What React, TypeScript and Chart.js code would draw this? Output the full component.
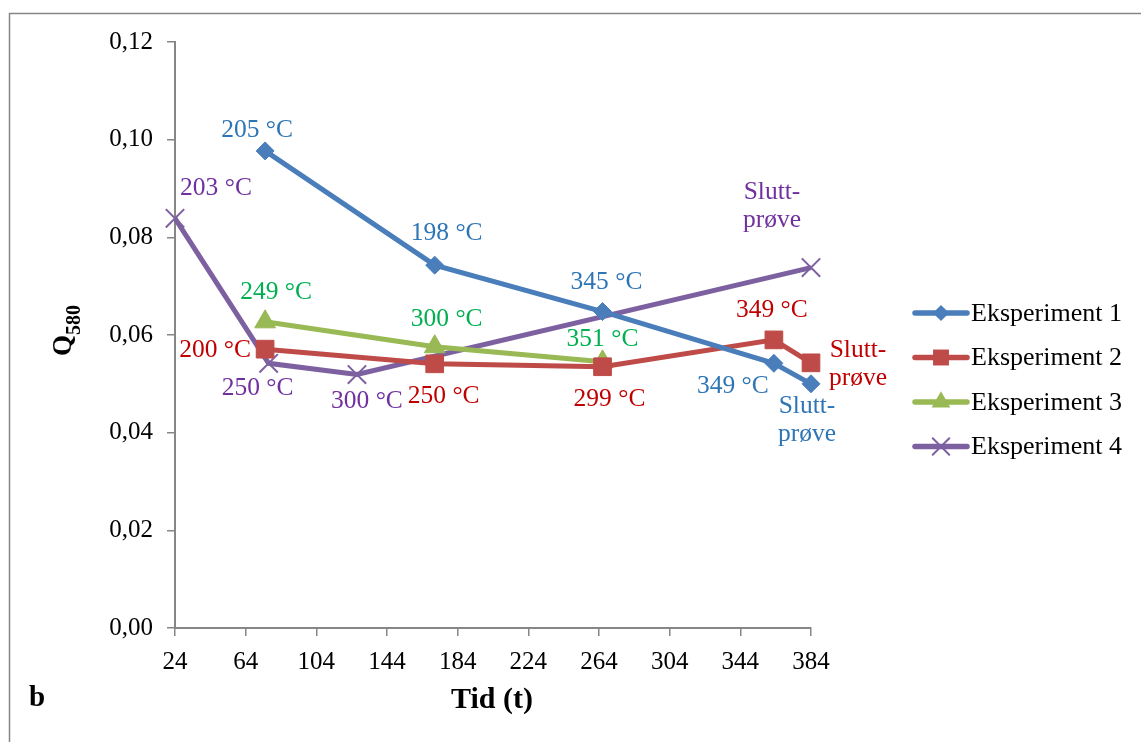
import React, { useEffect, useRef } from "react";
import { Chart, registerables } from "chart.js";

Chart.register(...registerables);

// ---- data ----
const seriesNames = ["Eksperiment 1", "Eksperiment 2", "Eksperiment 3", "Eksperiment 4"];
const exp1X = [75, 171, 266, 363, 384];
const exp1Y = [0.0977, 0.0743, 0.0648, 0.0542, 0.05];
const exp1Labels = ["205 °C", "198 °C", "345 °C", "349 °C", "Slutt-|prøve"];
const exp2X = [75, 171, 266, 363, 384];
const exp2Y = [0.0571, 0.0541, 0.0535, 0.059, 0.0543];
const exp2Labels = ["200 °C", "250 °C", "299 °C", "349 °C", "Slutt-|prøve"];
const exp3X = [75, 171, 266];
const exp3Y = [0.0627, 0.0576, 0.0545];
const exp3Labels = ["249 °C", "300 °C", "351 °C"];
const exp4X = [24, 77, 127, 384];
const exp4Y = [0.0839, 0.0542, 0.0519, 0.0738];
const exp4Labels = ["203 °C", "250 °C", "300 °C", "Slutt-|prøve"];
const xTicks = [24, 64, 104, 144, 184, 224, 264, 304, 344, 384];
const yTicks = [0, 0.02, 0.04, 0.06, 0.08, 0.1, 0.12];

// ---- styles ----
const lineColors = ["#4A7EBB", "#BE4B48", "#98B954", "#7D60A0"];
const labelColors = ["#2E75B6", "#C00000", "#00B050", "#7030A0"];
const pointStyles = ["rectRot", "rect", "triangle", "crossRot"];
const pointRadii = [9, 12.5, 12, 13];
// label offsets (dx, dy) relative to each point, in px
const labelOffsets = [
  [[-8, -21], [12, -32], [4, -29], [-41, 23], [-4, 36]],
  [[-50, 1], [9, 32], [7, 33], [-2, -30], [47, 1]],
  [[11, -30], [12, -27], [0, -23]],
  [[41, -30], [-11, 25], [10, 27], [-39, -61]],
];

const FONT = "'Liberation Serif', 'Times New Roman', serif";

function toPoints(xs: number[], ys: number[]) {
  return xs.map((x, i) => ({ x, y: ys[i] }));
}

function drawMarker(ctx: CanvasRenderingContext2D, style: string, x: number, y: number, r: number, color: string) {
  ctx.save();
  ctx.fillStyle = color;
  ctx.strokeStyle = color;
  ctx.beginPath();
  if (style === "rectRot") {
    ctx.moveTo(x, y - r);
    ctx.lineTo(x + r, y);
    ctx.lineTo(x, y + r);
    ctx.lineTo(x - r, y);
    ctx.closePath();
    ctx.fill();
  } else if (style === "rect") {
    const s = r * Math.SQRT1_2;
    ctx.rect(x - s, y - s, 2 * s, 2 * s);
    ctx.fill();
  } else if (style === "triangle") {
    ctx.moveTo(x, y - r);
    ctx.lineTo(x + r * 0.866, y + r * 0.5);
    ctx.lineTo(x - r * 0.866, y + r * 0.5);
    ctx.closePath();
    ctx.fill();
  } else {
    const d = r * Math.SQRT1_2;
    ctx.lineWidth = 2;
    ctx.moveTo(x - d, y - d);
    ctx.lineTo(x + d, y + d);
    ctx.moveTo(x + d, y - d);
    ctx.lineTo(x - d, y + d);
    ctx.stroke();
  }
  ctx.restore();
}

const allLabels = [exp1Labels, exp2Labels, exp3Labels, exp4Labels];

const overlayPlugin = {
  id: "overlay",
  afterDraw(chart: any) {
    const ctx: CanvasRenderingContext2D = chart.ctx;
    ctx.save();
    // outer frame
    ctx.strokeStyle = "#868686";
    ctx.lineWidth = 1.5;
    ctx.strokeRect(9.5, 13.5, 1145, 745);

    // data labels
    ctx.textAlign = "center";
    ctx.textBaseline = "middle";
    ctx.font = `25.5px ${FONT}`;
    chart.data.datasets.forEach((ds: any, di: number) => {
      const meta = chart.getDatasetMeta(di);
      meta.data.forEach((el: any, pi: number) => {
        const txt = allLabels[di][pi];
        const off = labelOffsets[di][pi];
        if (!txt || !off) return;
        ctx.fillStyle = labelColors[di];
        const lines = txt.split("|");
        const lh = 28;
        const cx = el.x + off[0];
        const cy = el.y + off[1];
        lines.forEach((ln: string, li: number) => {
          ctx.fillText(ln, cx, cy + (li - (lines.length - 1) / 2) * lh);
        });
      });
    });

    // legend
    seriesNames.forEach((name, i) => {
      const y = 313 + i * 44.5;
      ctx.strokeStyle = lineColors[i];
      ctx.lineWidth = 5.5;
      ctx.lineCap = "round";
      ctx.beginPath();
      ctx.moveTo(915, y);
      ctx.lineTo(967, y);
      ctx.stroke();
      drawMarker(ctx, pointStyles[i], 941, y, pointRadii[i] * 0.9, lineColors[i]);
      ctx.fillStyle = "#000";
      ctx.font = `26px ${FONT}`;
      ctx.textAlign = "left";
      ctx.textBaseline = "middle";
      ctx.fillText(name, 971, y + 1);
    });

    // y title Q580
    ctx.save();
    ctx.translate(71, 356);
    ctx.rotate(-Math.PI / 2);
    ctx.fillStyle = "#000";
    ctx.textAlign = "left";
    ctx.textBaseline = "alphabetic";
    ctx.font = `bold 27px ${FONT}`;
    ctx.fillText("Q", 0, 0);
    const qw = ctx.measureText("Q").width;
    ctx.font = `bold 20px ${FONT}`;
    ctx.fillText("580", qw, 9);
    ctx.restore();

    // x title
    ctx.fillStyle = "#000";
    ctx.textAlign = "center";
    ctx.textBaseline = "middle";
    ctx.font = `bold 30px ${FONT}`;
    ctx.fillText("Tid (t)", 492, 700);

    // panel letter
    ctx.textAlign = "left";
    ctx.font = `bold 29px ${FONT}`;
    ctx.fillText("b", 29, 699);
    ctx.restore();
  },
};

export default function App() {
  const ref = useRef<HTMLCanvasElement>(null);
  useEffect(() => {
    if (!ref.current) return;
    const xs = [exp1X, exp2X, exp3X, exp4X];
    const ys = [exp1Y, exp2Y, exp3Y, exp4Y];
    const chart = new Chart(ref.current, {
      type: "line",
      data: {
        datasets: seriesNames.map((name, i) => ({
          label: name,
          data: toPoints(xs[i], ys[i]),
          borderColor: lineColors[i],
          backgroundColor: lineColors[i],
          borderWidth: 5,
          pointStyle: pointStyles[i] as any,
          pointRadius: pointRadii[i],
          pointBorderWidth: i === 3 ? 2 : 1,
          pointBackgroundColor: lineColors[i],
          pointBorderColor: lineColors[i],
          tension: 0,
          fill: false,
          clip: false as any,
        })),
      },
      options: {
        responsive: false,
        animation: false,
        devicePixelRatio: 1,
        layout: { padding: { top: 42, right: 330, left: 0, bottom: 0 } },
        plugins: { legend: { display: false }, tooltip: { enabled: false } },
        scales: {
          x: {
            type: "linear",
            min: xTicks[0],
            max: xTicks[xTicks.length - 1],
            afterBuildTicks: (s: any) => {
              s.ticks = xTicks.map((v) => ({ value: v }));
            },
            afterFit: (s: any) => {
              s.height = 114;
            },
            ticks: {
              color: "#000",
              font: { family: FONT, size: 25 },
              padding: 11,
              maxRotation: 0,
              autoSkip: false,
            },
            grid: { drawOnChartArea: false, drawTicks: true, tickLength: 8, color: "#868686", lineWidth: 1.5 },
            border: { color: "#868686", width: 2 },
          },
          y: {
            type: "linear",
            min: 0,
            max: 0.12,
            afterBuildTicks: (s: any) => {
              s.ticks = yTicks.map((v) => ({ value: v }));
            },
            afterFit: (s: any) => {
              s.width = 175;
            },
            ticks: {
              color: "#000",
              font: { family: FONT, size: 25 },
              padding: 14,
              callback: (v: any) => Number(v).toFixed(2).replace(".", ","),
            },
            grid: { drawOnChartArea: false, drawTicks: true, tickLength: 8, color: "#868686", lineWidth: 1.5 },
            border: { color: "#868686", width: 2 },
          },
        },
      },
      plugins: [overlayPlugin],
    });
    return () => chart.destroy();
  }, []);
  return (
    <div style={{ position: "fixed", left: 0, top: 0, width: 1141, height: 742, background: "#fff" }}>
      <canvas ref={ref} width={1141} height={742} style={{ width: 1141, height: 742, display: "block" }} />
    </div>
  );
}
